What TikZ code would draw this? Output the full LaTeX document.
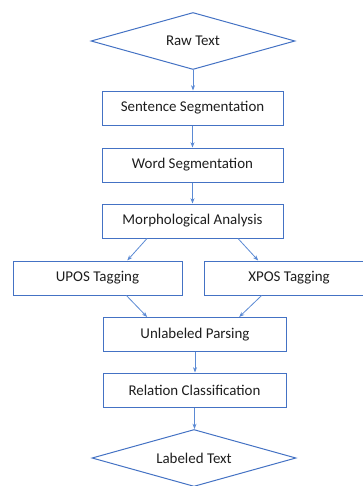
\documentclass[tikz,border=0pt]{standalone}
\usepackage{fontspec}
\setmainfont{Carlito}
\usepackage{tikz}
\usetikzlibrary{arrows.meta,calc,shapes.geometric}
\usepackage{xcolor}
\definecolor{boxblue}{RGB}{68,114,196}
\definecolor{flowblue}{RGB}{91,138,212}
\definecolor{inktext}{RGB}{30,30,30}

\begin{document}
\begin{tikzpicture}[x=0.75pt,y=-0.75pt,>={Stealth[length=4pt,width=3pt]},
    stage/.style={draw=boxblue,line width=0.75pt,fill=white,minimum height=25.5pt,
        inner sep=0pt,text=inktext,font=\fontsize{11.2}{13}\selectfont},
    terminal/.style={draw=boxblue,line width=0.75pt,fill=white,shape=diamond,aspect=3.6,
        minimum width=153pt,minimum height=42.75pt,inner sep=0pt,text=inktext,
        font=\fontsize{11.2}{13}\selectfont},
    flow/.style={->,draw=flowblue,line width=0.6pt}]
    % Canvas: 363 x 486 px, y grows downwards
    \useasboundingbox (0,0) rectangle (363,486);
    % Input and output
    \node[terminal] (raw) at (193,41) {Raw Text};
    \node[terminal] (labeled) at (194,458) {Labeled Text};
    % Pipeline stages
    \node[stage,minimum width=135.75pt] (sent) at (192.5,108) {Sentence Segmentation};
    \node[stage,minimum width=135.75pt] (word) at (192.5,165) {Word Segmentation};
    \node[stage,minimum width=135.75pt] (morph) at (192.5,221) {Morphological Analysis};
    \node[stage,minimum width=126.75pt] (upos) at (97.5,278) {UPOS Tagging};
    \node[stage,minimum width=127.5pt] (xpos) at (289,278) {XPOS Tagging};
    \node[stage,minimum width=137.25pt] (unlab) at (195,334.5) {Unlabeled Parsing};
    \node[stage,minimum width=137.25pt] (rel) at (194.5,390) {Relation Classification};
    % Straight links
    \draw[flow] (raw.south) -- (raw.south |- sent.north);
    \draw[flow] (sent.south) -- (word.north);
    \draw[flow] (word.south) -- (morph.north);
    \draw[flow] (unlab.south) -- (unlab.south |- rel.north);
    \draw[flow] (rel.south) -- (rel.south |- labeled.north);
    % Branch and merge
    \draw[flow] ($(morph.south west)!0.25!(morph.south east)$) -- ($(upos.north west)!0.675!(upos.north east)$);
    \draw[flow] ($(morph.south west)!0.75!(morph.south east)$) -- ($(xpos.north west)!0.32!(xpos.north east)$);
    \draw[flow] ($(upos.south west)!0.67!(upos.south east)$) -- ($(unlab.north west)!0.24!(unlab.north east)$);
    \draw[flow] ($(xpos.south west)!0.34!(xpos.south east)$) -- ($(unlab.north west)!0.74!(unlab.north east)$);
\end{tikzpicture}
\end{document}
